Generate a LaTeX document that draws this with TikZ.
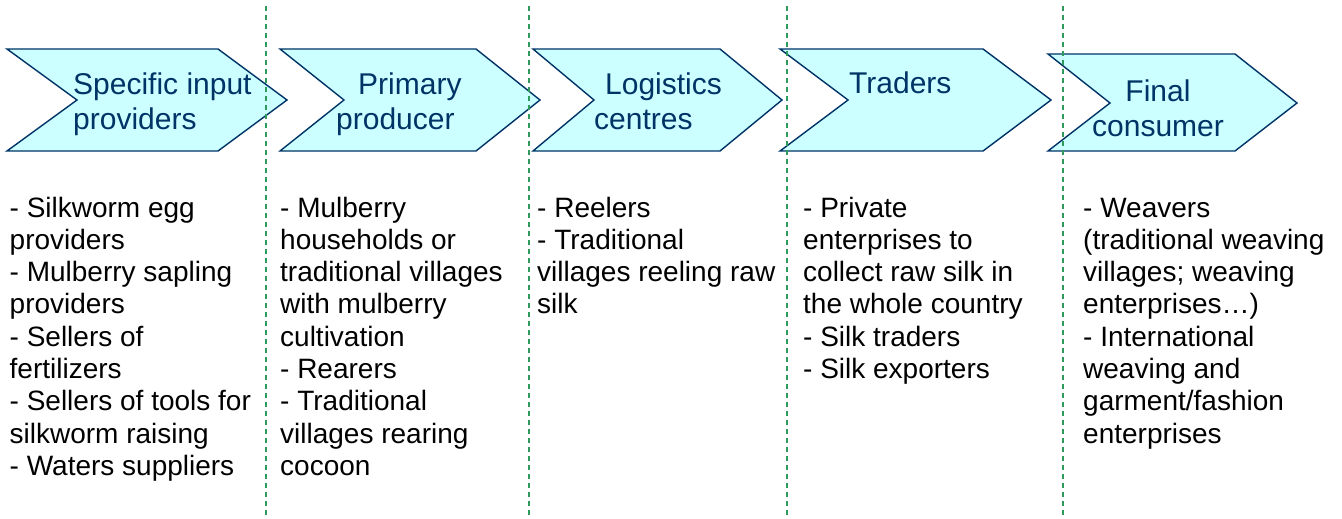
\documentclass[tikz,border=0pt]{standalone}
\usepackage{fontspec}
\setmainfont{Liberation Sans}
\definecolor{chevfill}{HTML}{CCFFFF}
\definecolor{chevline}{HTML}{003366}
\definecolor{sepgreen}{HTML}{2E9B5C}
\tikzset{
	chevron/.style={draw=chevline, fill=chevfill, line width=1.4pt, line join=miter},
	stage/.style={anchor=base west, align=left, inner sep=0pt, text=chevline, font=\fontsize{30}{35}\selectfont},
	actors/.style={anchor=base west, align=left, inner sep=0pt, font=\fontsize{28}{32.3}\selectfont},
	divider/.style={draw=sepgreen, line width=1.3pt, dash pattern=on 5pt off 4pt}
}

\begin{document}
\begin{tikzpicture}[x=1pt,y=-1pt]
		\useasboundingbox (0,0) rectangle (1342,519);

		\foreach \l/\n/\r/\p/\t/\m in {7/77/218/287/49/100, 280/344/476/540/49/100, 533/594/720/782/49/100, 780/848/983/1051/49/100, 1048/1110/1235/1297/54/103}
			\draw[chevron] (\l,\t) -- (\r,\t) -- (\p,\m) -- (\r,151) -- (\l,151) -- (\n,\m) -- cycle;

		% base anchor sits on the last line
		\draw (73,129) node [stage] (inputs) {Specific input\\providers};
		\draw (336,129) node [stage] (producer) {\hspace{22pt}Primary\\producer};
		\draw (594,129) node [stage] (logistics) {\hspace{11pt}Logistics\\centres};
		\draw (849,94) node [stage] (traders) {Traders};
		\draw (1158,136) node [stage, anchor=base, align=center] (consumer) {Final\\consumer};

		\draw (9.5,475.4) node [actors] (inputlist) {- Silkworm egg\\providers\\- Mulberry sapling\\providers\\- Sellers of\\fertilizers\\- Sellers of tools for\\silkworm raising\\- Waters suppliers};
		\draw (280,475.4) node [actors] (producerlist) {- Mulberry\\households or\\traditional villages\\with mulberry\\cultivation\\- Rearers\\- Traditional\\villages rearing\\cocoon};
		\draw (537,313.9) node [actors] (logisticslist) {- Reelers\\- Traditional\\villages reeling raw\\silk};
		\draw (803,378.5) node [actors] (traderlist) {- Private\\enterprises to\\collect raw silk in\\the whole country\\- Silk traders\\- Silk exporters};
		\draw (1083,443.1) node [actors] (consumerlist) {- Weavers\\(traditional weaving\\villages; weaving\\enterprises…)\\- International\\weaving and\\garment/fashion\\enterprises};

		\foreach \x in {266,529,787,1063}
			\draw[divider] (\x,6) -- (\x,519);
	\end{tikzpicture}
\end{document}
